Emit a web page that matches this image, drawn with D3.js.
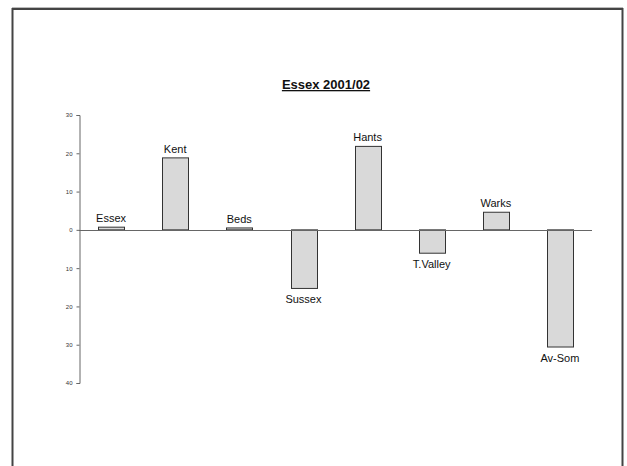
<!DOCTYPE html>
<html><head><meta charset="utf-8">
<script src="https://cdn.jsdelivr.net/npm/d3@7/dist/d3.min.js"></script>
<style>body{margin:0;background:#fff}svg{display:block}</style>
</head><body><svg id="c" width="627" height="466"></svg>
<script>
const categories = ["Essex","Kent","Beds","Sussex","Hants","T.Valley","Warks","Av-Som"];
const values = [0.7, 18.8, 0.5, -15.3, 21.8, -6.1, 4.6, -30.6];
const tickValues = [30,20,10,0,-10,-20,-30,-40];
const tickLabels = ["30","20","10","0","10","20","30","40"];
const title = "Essex 2001/02";

const svg = d3.select("#c");
// frame
svg.append("line").attr("x1",12).attr("x2",623).attr("y1",7.5).attr("y2",7.5).attr("stroke","#bbb").attr("stroke-width",1);
svg.append("path").attr("d","M12.5,466 V9 H622.5 V466").attr("fill","none").attr("stroke","#444").attr("stroke-width",2);

const x = d3.scaleBand().domain(categories).range([79,592]).paddingInner(0.6).paddingOuter(0.3);
const y = d3.scaleLinear().domain([-40,30]).range([383,115]);

// y axis
const yAxis = d3.axisLeft(y).tickValues(tickValues).tickSize(3).tickPadding(4)
  .tickFormat((d,i)=>tickLabels[i]);
const ga = svg.append("g").attr("transform","translate(79.5,0)").call(yAxis);
ga.select(".domain").attr("stroke","#666");
ga.selectAll(".tick line").attr("stroke","#666");
ga.selectAll("text").attr("font-family","Liberation Sans, Arial, sans-serif").attr("font-size",6).attr("fill","#333");

// bars
svg.append("g").selectAll("rect").data(values).join("rect")
  .attr("x",(d,i)=>Math.round(x(categories[i]))+0.5)
  .attr("width",Math.round(x.bandwidth()))
  .attr("y",d=>Math.min(y(d),y(0)))
  .attr("height",d=>Math.abs(y(d)-y(0)))
  .attr("fill","#d9d9d9").attr("stroke","#333").attr("stroke-width",1);

// zero line
svg.append("line").attr("x1",79).attr("x2",592).attr("y1",Math.round(y(0))+0.5).attr("y2",Math.round(y(0))+0.5)
  .attr("stroke","#666").attr("stroke-width",1);

// labels
svg.append("g").selectAll("text").data(values).join("text")
  .attr("x",(d,i)=>x(categories[i])+x.bandwidth()/2)
  .attr("y",d=>d>=0 ? y(d)-5 : y(d)+15)
  .attr("text-anchor","middle")
  .attr("font-family","Liberation Sans, Arial, sans-serif").attr("font-size",11).attr("fill","#111")
  .text((d,i)=>categories[i]);

// title
svg.append("text").attr("x",326).attr("y",89).attr("text-anchor","middle")
  .attr("font-family","Liberation Sans, Arial, sans-serif").attr("font-size",13).attr("font-weight","bold")
  .attr("text-decoration","underline").attr("fill","#111").text(title);
</script></body></html>
